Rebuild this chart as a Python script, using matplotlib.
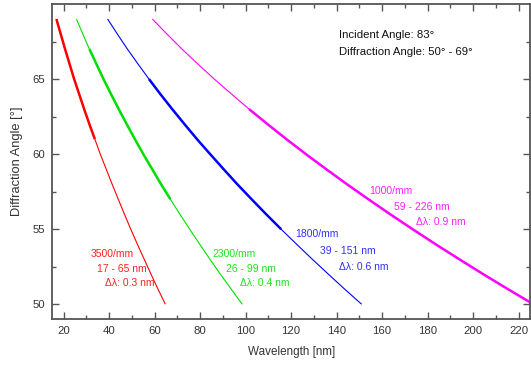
import matplotlib
matplotlib.use("Agg")
import matplotlib.pyplot as plt
import numpy as np

plt.rcParams['font.family'] = ['Liberation Sans', 'DejaVu Sans']

# Diffraction angle (deg) sampled
angles = [50, 51, 52, 53, 54, 55, 56, 57, 58, 59, 60, 61, 62, 63, 64, 65, 66, 67, 68, 69]

# Wavelength (nm) for each grating
wl_3500 = [64.7, 61.5, 58.4, 55.4, 52.4, 49.5, 46.7, 44.0, 41.3, 38.7, 36.1, 33.7, 31.3, 29.0, 26.8, 24.6, 22.6, 20.6, 18.7, 16.8]
wl_2300 = [98.5, 93.7, 88.9, 84.3, 79.8, 75.4, 71.1, 66.9, 62.8, 58.9, 55.0, 51.3, 47.7, 44.2, 40.8, 37.5, 34.4, 31.3, 28.4, 25.6]
wl_1800 = [151.0, 143.6, 136.4, 129.3, 122.4, 115.6, 109.0, 102.6, 96.3, 90.3, 84.4, 78.6, 73.1, 67.7, 62.5, 57.5, 52.7, 48.0, 43.6, 39.3]
wl_1000 = [226.5, 215.4, 204.5, 193.9, 183.5, 173.4, 163.5, 153.9, 144.5, 135.4, 126.5, 117.9, 109.6, 101.5, 93.8, 86.2, 79.0, 72.0, 65.4, 59.0]

# angle range drawn bold for each grating
bold_ranges = [(61, 69), (57, 67), (55, 65), (50, 63)]

series_colors = ['#ff0000', '#00e000', '#0000ff', '#ff00ff']
label_colors = ['#ff2020', '#20e020', '#3030ff', '#ff20ff']

label_lines = [
    ["3500/mm", "17 - 65 nm", "\u0394\u03bb: 0.3 nm"],
    ["2300/mm", "26 - 99 nm", "\u0394\u03bb: 0.4 nm"],
    ["1800/mm", "39 - 151 nm", "\u0394\u03bb: 0.6 nm"],
    ["1000/mm", "59 - 226 nm", "\u0394\u03bb: 0.9 nm"],
]
label_pos = [
    [(31.8, 53.35), (34.5, 52.35), (38.0, 51.4)],
    [(85.6, 53.35), (91.3, 52.35), (97.4, 51.4)],
    [(121.7, 54.67), (132.6, 53.56), (141.1, 52.5)],
    [(154.2, 57.54), (165.1, 56.48), (174.7, 55.47)],
]

info_lines = ["Incident Angle: 83\u00b0", "Diffraction Angle: 50\u00b0 - 69\u00b0"]

fig = plt.figure(figsize=(5.31, 3.66), dpi=100)
ax = fig.add_axes([52.3 / 531, 1 - 319.3 / 366, (530 - 52.3) / 531, (319.3 - 4) / 366])

ang = np.array(angles)
for wl, (lo, hi), col in zip([wl_3500, wl_2300, wl_1800, wl_1000], bold_ranges, series_colors):
    wl = np.array(wl)
    ax.plot(wl, ang, color=col, lw=0.8, solid_capstyle='butt')
    m = (ang >= lo) & (ang <= hi)
    ax.plot(wl[m], ang[m], color=col, lw=1.8, solid_capstyle='butt')

for lines, poss, col in zip(label_lines, label_pos, label_colors):
    for t, (x, y) in zip(lines, poss):
        ax.text(x, y, t, color=col, fontsize=7.5, ha='left', va='center')

ax.text(141.1, 67.94, info_lines[0], fontsize=8.2, ha='left', va='center', color='#111111')
ax.text(141.1, 66.8, info_lines[1], fontsize=8.2, ha='left', va='center', color='#111111')

ax.set_xlim(15, 225)
ax.set_ylim(49, 70)
ax.set_xticks(np.arange(20, 221, 20))
ax.set_xticks(np.arange(20, 226, 10), minor=True)
ax.set_yticks([50, 55, 60, 65])
ax.set_yticks(np.arange(50, 70, 2.5), minor=True)

spine_col = '#555555'
for s in ax.spines.values():
    s.set_color(spine_col)
    s.set_linewidth(1.3)
ax.tick_params(which='both', direction='in', top=True, right=True, color=spine_col, width=1.0,
               labelsize=8.2, labelcolor='#333333')
ax.tick_params(which='major', length=4.7, pad=5)
ax.tick_params(which='minor', length=2.7)
ax.tick_params(axis='y', labelright=False)

ax.set_xlabel("Wavelength [nm]", fontsize=8.4, color='#333333', labelpad=7)
ax.set_ylabel("Diffraction Angle [\u00b0]", fontsize=9.3, color='#333333', labelpad=7)

fig.savefig("out.png", dpi=100)
